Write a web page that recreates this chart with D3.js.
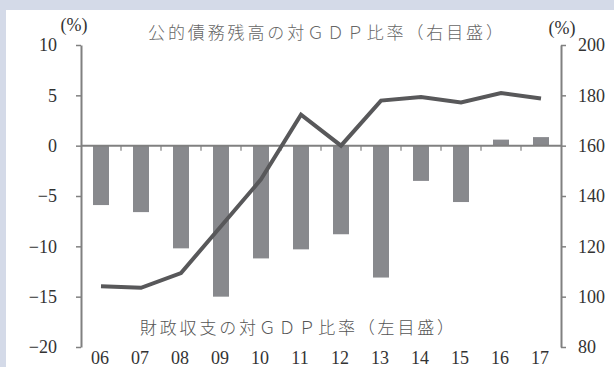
<!DOCTYPE html>
<html><head><meta charset="utf-8">
<script src="https://cdn.jsdelivr.net/npm/d3@7"></script>
<style>
html,body{margin:0;padding:0;background:#fff;}
svg{display:block;}
</style></head>
<body>
<script>
const years = ["06","07","08","09","10","11","12","13","14","15","16","17"];
const balance = [-5.9,-6.6,-10.2,-15.0,-11.2,-10.3,-8.8,-13.1,-3.5,-5.6,0.6,0.85];
const debt = [104.1,103.5,109.4,128.0,146.6,172.3,160.0,177.9,179.3,177.2,180.9,178.7];
const leftTicks = [10,5,0,-5,-10,-15,-20];
const rightTicks = [200,180,160,140,120,100,80];
const titleDebt = "公的債務残高の対ＧＤＰ比率（右目盛）";
const titleBalance = "財政収支の対ＧＤＰ比率（左目盛）";
const unitLabel = "(%)";

const NUMF = "Liberation Serif, Times New Roman, Times, DejaVu Serif, serif";
const JPF = "Noto Sans CJK JP, Noto Sans CJK SC, sans-serif";

const W = 614, H = 367;
const svg = d3.select("body").append("svg").attr("width", W).attr("height", H);

svg.append("rect").attr("x",0).attr("y",0).attr("width",W).attr("height",H).attr("fill","#fff");
svg.append("rect").attr("x",0).attr("y",0).attr("width",W).attr("height",10).attr("fill","#d4dae8");
svg.append("rect").attr("x",0).attr("y",0).attr("width",6).attr("height",H).attr("fill","#d4dae8");

const x0 = 81, x1 = 561, yTop = 45, yBot = 347;
const x = d3.scaleBand().domain(years).range([x0, x1]).paddingInner(0.6).paddingOuter(0.3);
const xb = d3.scaleBand().domain(years).range([x0, x1]);
const yL = d3.scaleLinear().domain([-20, 10]).range([yBot, yTop]);
const yR = d3.scaleLinear().domain([80, 200]).range([yBot, yTop]);

const axisColor = "#808080";

svg.append("g").selectAll("rect").data(years).join("rect")
  .attr("x", d => x(d))
  .attr("width", x.bandwidth())
  .attr("y", (d,i) => Math.min(yL(0), yL(balance[i])))
  .attr("height", (d,i) => Math.abs(yL(balance[i]) - yL(0)))
  .attr("fill", "#88898d");

const gx = svg.append("g").attr("transform", `translate(0,${yL(0)})`);
gx.append("line").attr("x1", x0).attr("x2", x1).attr("y1",0).attr("y2",0)
  .attr("stroke", axisColor).attr("stroke-width", 2);
gx.selectAll("line.tk").data(years.slice(1)).join("line").attr("class","tk")
  .attr("x1", d => xb(d)).attr("x2", d => xb(d)).attr("y1", 0).attr("y2", 5)
  .attr("stroke", axisColor).attr("stroke-width", 1.2);

function styleAxis(g){
  g.attr("font-family", NUMF).attr("font-size", 18);
  g.select(".domain").attr("stroke", axisColor).attr("stroke-width", 2);
  g.selectAll(".tick line").attr("stroke", axisColor).attr("stroke-width", 1.5);
  g.selectAll(".tick text").style("font-family", NUMF).style("font-size","18px").attr("fill", "#333");
}

const gl = svg.append("g").attr("transform", `translate(${x0},0)`)
  .call(d3.axisLeft(yL).tickValues(leftTicks).tickSize(5).tickSizeOuter(0)
    .tickPadding(19).tickFormat(d => d < 0 ? "−" + Math.abs(d) : d));
styleAxis(gl);

const gr = svg.append("g").attr("transform", `translate(${x1},0)`)
  .call(d3.axisRight(yR).tickValues(rightTicks).tickSize(5).tickSizeOuter(0).tickPadding(12));
styleAxis(gr);

const gb = svg.append("g").attr("transform", `translate(0,358)`)
  .call(d3.axisBottom(xb).tickSize(0).tickPadding(0));
gb.select(".domain").remove();
styleAxis(gb);
gb.selectAll(".tick text").attr("dy", "0.35em").attr("dx", -1);

const line = d3.line().x((d,i) => xb(years[i]) + xb.bandwidth()/2).y(d => yR(d));
svg.append("path").datum(debt).attr("d", line).attr("fill","none")
  .attr("stroke", "#58585a").attr("stroke-width", 4).attr("stroke-linejoin","miter");

svg.append("text").attr("x", 148).attr("y", 31).attr("dominant-baseline","central")
  .style("font-family", JPF).style("font-weight","300").style("font-size","17px").attr("fill", "#666")
  .attr("textLength", 355).attr("lengthAdjust","spacing").text(titleDebt);
svg.append("text").attr("x", 140).attr("y", 326).attr("dominant-baseline","central")
  .style("font-family", JPF).style("font-weight","300").style("font-size","17px").attr("fill", "#555")
  .attr("textLength", 314).attr("lengthAdjust","spacing").text(titleBalance);
svg.append("text").attr("x", 74).attr("y", 25).attr("dominant-baseline","central").attr("text-anchor","middle")
  .style("font-family", NUMF).style("font-size","18px").attr("fill", "#333").text(unitLabel);
svg.append("text").attr("x", 562).attr("y", 28).attr("dominant-baseline","central").attr("text-anchor","middle")
  .style("font-family", NUMF).style("font-size","18px").attr("fill", "#333").text(unitLabel);
</script>
</body></html>
